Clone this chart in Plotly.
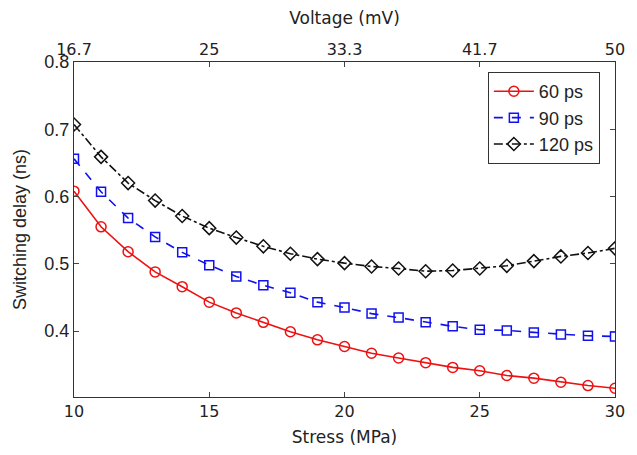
import plotly.graph_objects as go

stress = list(range(10, 31))
delay_60 = [0.608, 0.555, 0.518, 0.488, 0.466, 0.443, 0.427, 0.413, 0.399, 0.387, 0.377,
            0.367, 0.360, 0.353, 0.346, 0.341, 0.334, 0.330, 0.324, 0.319, 0.315]
delay_90 = [0.656, 0.607, 0.568, 0.540, 0.517, 0.498, 0.481, 0.468, 0.457, 0.443, 0.435,
            0.426, 0.420, 0.413, 0.407, 0.402, 0.401, 0.398, 0.395, 0.393, 0.392]
delay_120 = [0.707, 0.659, 0.620, 0.594, 0.571, 0.553, 0.539, 0.526, 0.515, 0.507, 0.501,
             0.496, 0.493, 0.489, 0.490, 0.493, 0.497, 0.504, 0.511, 0.516, 0.523]
volt_ticks = [50/3, 25, 100/3, 125/3, 50]
volt_labels = ["16.7", "25", "33.3", "41.7", "50"]

FONT = "DejaVu Sans"
ARIAL = "Liberation Sans"
fig = go.Figure()
fig.add_trace(go.Scatter(x=stress, y=delay_60, name="60 ps", mode="lines+markers",
                         line=dict(color="#ee1111", width=1.6),
                         marker=dict(symbol="circle-open", size=10, color="#ee1111", line=dict(width=1.5))))
fig.add_trace(go.Scatter(x=stress, y=delay_90, name="90 ps", mode="lines+markers",
                         line=dict(color="#1111ee", width=1.6, dash="dash"),
                         marker=dict(symbol="square-open", size=9, color="#1111ee", line=dict(width=1.5))))
fig.add_trace(go.Scatter(x=stress, y=delay_120, name="120 ps", mode="lines+markers",
                         line=dict(color="#111111", width=1.6, dash="dashdot"),
                         marker=dict(symbol="diamond-open", size=10, color="#111111", line=dict(width=1.5))))
fig.add_trace(go.Scatter(x=[volt_ticks[0], volt_ticks[-1]], y=[0.5, 0.5], xaxis="x2",
                         mode="markers", marker=dict(opacity=0), showlegend=False, hoverinfo="skip"))

fig.update_layout(
    width=637, height=455, margin=dict(l=74, r=13, t=62, b=57),
    paper_bgcolor="white", plot_bgcolor="white",
    font=dict(family=FONT, size=16, color="#222"),
    xaxis=dict(range=[10, 30], tickvals=[10, 15, 20, 25, 30], ticks="inside", ticklen=5,
               showline=True, linecolor="#333", linewidth=1.2, showgrid=False, zeroline=False,
               title=dict(text="Stress (MPa)", standoff=10, font=dict(size=17)),
               tickfont=dict(size=16)),
    xaxis2=dict(range=[50/3, 50], overlaying="x", side="top", tickvals=volt_ticks, ticktext=volt_labels,
                ticks="inside", ticklen=5, showline=True, linecolor="#333", linewidth=1.2,
                showgrid=False, zeroline=False,
                title=dict(text="Voltage (mV)", standoff=10, font=dict(size=17)), tickfont=dict(size=16)),
    yaxis=dict(range=[0.302, 0.8], tickvals=[0.4, 0.5, 0.6, 0.7, 0.8], ticks="inside", ticklen=5,
               showline=True, mirror="ticks", linecolor="#333", linewidth=1.2, showgrid=False, zeroline=False,
               title=dict(text="Switching delay (ns)", standoff=12, font=dict(family=ARIAL, size=18)),
               tickfont=dict(family=ARIAL, size=18)),
    legend=dict(x=0.765, y=0.970, xanchor="left", yanchor="top", bordercolor="#333", borderwidth=1,
                bgcolor="white", font=dict(family=ARIAL, size=18), tracegroupgap=0,
                itemwidth=40),
    showlegend=True,
)
fig.write_html("out.html")
